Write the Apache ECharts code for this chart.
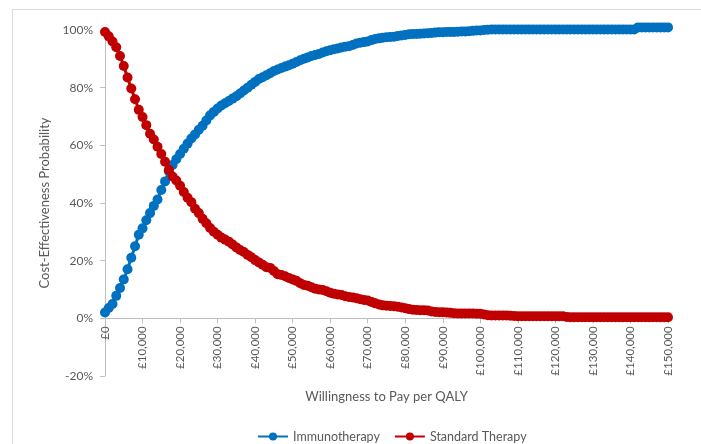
<!DOCTYPE html>
<html>
<head>
<meta charset="utf-8">
<script src="https://cdn.jsdelivr.net/npm/echarts@6/dist/echarts.min.js"></script>
<style>
  html, body { margin: 0; padding: 0; background: #fff; }
  #main { width: 701px; height: 444px; }
</style>
</head>
<body>
<div id="main"></div>
<script>
// willingness to pay, £ (one point per £1,000)
var wtpStep = 1000;
var wtpCount = 151;

// probability cost-effective, %
var immunotherapy = [
    2.0, 3.6, 5.0, 7.8, 10.5, 13.5, 17.0, 21.0, 25.0, 29.0,
    31.2, 34.0, 36.5, 39.0, 41.2, 44.5, 47.5, 51.0, 53.2, 55.2,
    57.0, 58.8, 60.6, 62.4, 63.8, 65.4, 66.8, 68.6, 70.4, 71.6,
    72.8, 73.8, 74.6, 75.4, 76.2, 77.0, 78.0, 79.0, 80.0, 81.0,
    82.0, 83.0, 83.6, 84.3, 85.0, 85.8, 86.3, 86.8, 87.3, 87.8,
    88.3, 88.9, 89.5, 90.0, 90.5, 91.0, 91.3, 91.7, 92.2, 92.6,
    93.0, 93.3, 93.6, 93.9, 94.2, 94.4, 94.8, 95.3, 95.6, 95.8,
    96.0, 96.5, 96.9, 97.1, 97.3, 97.5, 97.6, 97.7, 97.9, 98.1,
    98.3, 98.5, 98.6, 98.6, 98.7, 98.8, 98.9, 99.0, 99.1, 99.2,
    99.2, 99.3, 99.3, 99.3, 99.4, 99.5, 99.5, 99.6, 99.7, 99.8,
    99.8, 100.0, 100.1, 100.2, 100.2, 100.2, 100.2, 100.2, 100.2, 100.2,
    100.2, 100.2, 100.2, 100.2, 100.2, 100.2, 100.2, 100.2, 100.2, 100.2,
    100.2, 100.2, 100.2, 100.2, 100.2, 100.2, 100.2, 100.2, 100.2, 100.2,
    100.2, 100.2, 100.2, 100.2, 100.2, 100.2, 100.2, 100.2, 100.2, 100.2,
    100.2, 100.2, 100.9, 100.9, 100.9, 100.9, 100.9, 100.9, 100.9, 100.9,
    100.9
];
var standardTherapy = [
    99.3, 97.8, 96.0, 94.0, 91.0, 87.5, 83.5, 79.7, 76.0, 72.3,
    69.8, 67.0, 64.0, 62.0, 59.5, 57.0, 54.3, 51.5, 49.2, 47.8,
    46.0, 43.8, 41.8, 40.3, 38.0, 36.5, 34.5, 33.0, 31.3, 30.0,
    29.0, 28.0, 27.3, 26.6, 25.6, 24.6, 23.7, 23.0, 22.0, 21.2,
    20.2, 19.4, 18.6, 17.7, 17.5, 16.4, 15.3, 15.0, 14.6, 14.0,
    13.5, 13.0, 12.2, 11.6, 11.3, 10.8, 10.3, 10.0, 9.8, 9.4,
    8.9, 8.5, 8.3, 8.1, 7.7, 7.4, 7.2, 7.0, 6.6, 6.4,
    6.2, 5.7, 5.2, 4.8, 4.5, 4.4, 4.3, 4.2, 4.0, 3.8,
    3.5, 3.2, 3.0, 2.9, 2.8, 2.8, 2.7, 2.4, 2.2, 2.1,
    2.1, 2.0, 1.9, 1.8, 1.7, 1.7, 1.7, 1.7, 1.7, 1.6,
    1.6, 1.3, 1.1, 1.0, 1.0, 1.0, 1.0, 1.0, 0.9, 0.8,
    0.7, 0.7, 0.7, 0.7, 0.7, 0.7, 0.7, 0.7, 0.7, 0.7,
    0.7, 0.7, 0.7, 0.5, 0.4, 0.4, 0.4, 0.4, 0.4, 0.4,
    0.4, 0.4, 0.4, 0.4, 0.4, 0.4, 0.4, 0.4, 0.4, 0.4,
    0.4, 0.4, 0.4, 0.4, 0.4, 0.4, 0.4, 0.4, 0.4, 0.4,
    0.4
];
var seriesNames = ['Immunotherapy', 'Standard Therapy'];
var seriesColors = ['#0070c0', '#c00000'];

var wtp = [];
for (var i = 0; i < wtpCount; i++) {
    wtp.push(i * wtpStep);
}

function pairs(values) {
    return values.map(function (v, i) { return [wtp[i], v]; });
}

function poundLabel(v) {
    return '£' + v.toLocaleString('en-GB');
}

var font = 'Lato, "Open Sans", sans-serif';
var grey = '#595959';
var axisGrey = '#bfbfbf';

// plot area, px
var plotTop = 30, plotBottom = 68;
var plotHeight = 444 - plotTop - plotBottom;
var yMin = -20, yMax = 100;
// lift the x axis from the bottom edge up to the 0% line
var xAxisLift = plotHeight * (0 - yMin) / (yMax - yMin);

var chart = echarts.init(document.getElementById('main'));
var option = {
    animation: false,
    textStyle: { fontFamily: font },
    graphic: [{
        type: 'rect',
        shape: { x: 12.5, y: 9.5, width: 700, height: 450 },
        style: { fill: 'none', stroke: '#d9d9d9', lineWidth: 1 },
        z: -1
    }],
    grid: { left: 105, right: 33, top: plotTop, bottom: plotBottom, containLabel: false, outerBoundsMode: 'none' },
    legend: {
        top: 425,
        left: 252,
        itemWidth: 30,
        itemHeight: 10,
        itemGap: 14,
        textStyle: { color: grey, fontSize: 12.5, fontFamily: font },
        data: seriesNames
    },
    xAxis: {
        type: 'value',
        min: 0,
        max: 150000,
        interval: 10000,
        offset: -xAxisLift,
        name: 'Willingness to Pay per QALY',
        nameLocation: 'middle',
        nameGap: 72,
        nameTextStyle: { color: grey, fontSize: 13, fontFamily: font },
        axisLine: { onZero: false, lineStyle: { color: axisGrey, width: 1 } },
        axisTick: { show: true, length: 5, lineStyle: { color: axisGrey } },
        axisLabel: {
            rotate: 90,
            margin: 8,
            color: grey,
            fontSize: 11.5,
            formatter: poundLabel
        },
        splitLine: { show: false }
    },
    yAxis: {
        type: 'value',
        min: yMin,
        max: yMax,
        interval: 20,
        name: 'Cost-Effectiveness Probability',
        nameLocation: 'middle',
        nameGap: 41,
        nameTextStyle: { color: grey, fontSize: 13, fontFamily: font },
        axisLine: { show: true, lineStyle: { color: axisGrey, width: 1 } },
        axisTick: { show: true, length: 5, lineStyle: { color: axisGrey } },
        axisLabel: { color: grey, fontSize: 12, margin: 12, formatter: '{value}%' },
        splitLine: { show: false }
    },
    series: [
        {
            name: seriesNames[0],
            type: 'line',
            clip: false,
            data: pairs(immunotherapy),
            symbol: 'circle',
            symbolSize: 10,
            color: seriesColors[0],
            lineStyle: { width: 3, color: seriesColors[0] },
            itemStyle: { color: seriesColors[0] }
        },
        {
            name: seriesNames[1],
            type: 'line',
            clip: false,
            data: pairs(standardTherapy),
            symbol: 'circle',
            symbolSize: 10,
            color: seriesColors[1],
            lineStyle: { width: 3, color: seriesColors[1] },
            itemStyle: { color: seriesColors[1] }
        }
    ]
};
chart.setOption(option);
</script>
</body>
</html>
